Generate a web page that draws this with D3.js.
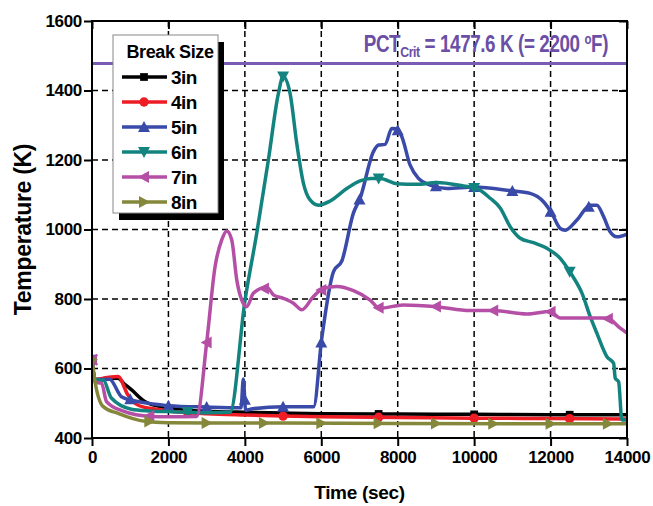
<!DOCTYPE html>
<html>
<head>
<meta charset="utf-8">
<script src="https://cdn.jsdelivr.net/npm/d3@7"></script>
<style>
  body { margin: 0; background: #fff; }
  text { font-family: "Liberation Sans", Arial, sans-serif; font-weight: bold; }
</style>
</head>
<body>
<div class="chart"></div>
<script>
var svgWidth = 653;
var svgHeight = 506;

var margin = { top: 21, right: 26, bottom: 68, left: 92 };
var width = svgWidth - margin.left - margin.right;
var height = svgHeight - margin.top - margin.bottom;

// ticks
var xTicks = [0, 2000, 4000, 6000, 8000, 10000, 12000, 14000];
var yTicks = [400, 600, 800, 1000, 1200, 1400, 1600];
var pctCrit = 1477.6;

// series [time (s), temperature (K)]
var s3in = [[0,625],[80,568],[400,570],[680,572],[850,555],[1030,539],[1380,505],[1900,488],[2500,480],[3000,477],[4000,474],[5000,472],[6000,470],[8000,469],[10000,468],[12000,467],[14000,467]];
var s4in = [[0,625],[80,568],[400,574],[680,577],[940,524],[1200,495],[1600,484],[2000,478],[3000,470],[4000,466],[5000,463],[6000,461],[8000,459],[10000,457],[12000,456],[14000,455]];
var s5in = [[0,625],[80,568],[460,569],[770,519],[1200,505],[1600,498],[2000,493],[3000,489],[3900,487],[3960,570],[4020,480],[4200,484],[5000,490],[5800,490],[6013,687],[6320,879],[6540,910],[6840,1047],[7016,1090],[7365,1224],[7496,1243],[7670,1245],[7846,1291],[7977,1290],[8108,1267],[8325,1185],[8543,1147],[8850,1128],[9286,1118],[10000,1122],[10943,1112],[11466,1104],[11815,1080],[12035,1046],[12252,1003],[12383,998],[12689,1027],[13038,1070],[13213,1070],[13388,1037],[13562,993],[13737,979],[14000,987]];
var s6in = [[0,625],[80,568],[300,566],[506,515],[1030,483],[1500,478],[2000,476],[3000,473],[3613,474],[4005,797],[4311,989],[4615,1200],[4877,1391],[5000,1440],[5184,1391],[5358,1248],[5533,1133],[5707,1085],[5925,1070],[6231,1082],[6667,1118],[7016,1140],[7300,1147],[7540,1147],[7977,1132],[8500,1130],[9024,1135],[9722,1125],[10071,1118],[10420,1090],[10682,1062],[10943,1008],[11205,975],[11554,962],[11903,946],[12252,917],[12559,869],[12821,817],[13038,749],[13213,701],[13475,634],[13650,615],[13693,572],[13780,562],[13867,452],[14000,452]];
var s7in = [[0,625],[80,560],[250,558],[380,505],[800,478],[1545,462],[2000,461],[2741,462],[3003,677],[3220,893],[3395,970],[3526,996],[3657,970],[3788,855],[3919,797],[4050,778],[4224,817],[4573,834],[4747,812],[5009,802],[5271,788],[5490,769],[5795,807],[6056,831],[6406,836],[6842,824],[7278,797],[7522,773],[8150,783],[9024,778],[9896,767],[10507,767],[11380,757],[11990,764],[12252,745],[13475,745],[13823,716],[14000,702]];
var s8in = [[0,625],[80,562],[288,491],[700,470],[1379,448],[2000,444],[3000,443],[5000,443],[8000,442],[11000,441],[14000,441]];

// marker times
var mk2500 = [0, 2500, 5000, 7500, 10000, 12500];
var mk1000 = [0, 1000, 2000, 3000, 4000, 5000, 6000, 7000, 8000, 9000, 10000, 11000, 12000, 13000];
var mk1500 = [0, 1500, 3000, 4500, 6000, 7500, 9000, 10500, 12000, 13500];

var seriesNames = ["3in", "4in", "5in", "6in", "7in", "8in"];
var seriesData = [s3in, s4in, s5in, s6in, s7in, s8in];
var seriesMarks = [mk2500, mk2500, mk1000, mk2500, mk1500, mk1500];
var seriesColors = ["#000000", "#ee1c24", "#3a4aa8", "#13837f", "#b54fa6", "#85883a"];
var seriesSymbols = ["square", "circle", "up", "down", "left", "right"];

var svg = d3.select(".chart")
  .append("svg")
  .attr("width", svgWidth)
  .attr("height", svgHeight);

var chartGroup = svg.append("g")
  .attr("transform", `translate(${margin.left}, ${margin.top})`);

var xScale = d3.scaleLinear().domain([0, 14000]).range([0, width]);
var yScale = d3.scaleLinear().domain([400, 1600]).range([height, 0]);

// dashed grid
chartGroup.append("g").selectAll("line")
  .data(xTicks.slice(1, -1))
  .enter().append("line")
  .attr("x1", d => xScale(d)).attr("x2", d => xScale(d))
  .attr("y1", 0).attr("y2", height)
  .attr("stroke", "#000").attr("stroke-width", 1.5).attr("stroke-dasharray", "6,4");
chartGroup.append("g").selectAll("line")
  .data(yTicks.slice(1, -1))
  .enter().append("line")
  .attr("x1", 0).attr("x2", width)
  .attr("y1", d => yScale(d)).attr("y2", d => yScale(d))
  .attr("stroke", "#000").attr("stroke-width", 1.5).attr("stroke-dasharray", "6,4");

// PCT line
chartGroup.append("line")
  .attr("x1", 0).attr("x2", width)
  .attr("y1", yScale(pctCrit)).attr("y2", yScale(pctCrit))
  .attr("stroke", "#7a5db2").attr("stroke-width", 3);

// label is condensed horizontally like the original narrow font
var pctText = chartGroup.append("g")
  .attr("transform", `translate(${width - 19}, 31) scale(0.82, 1)`)
  .append("text")
  .attr("text-anchor", "end")
  .attr("fill", "#6b4fa6")
  .style("font-size", "23px")
  .style("letter-spacing", "-0.5px");
pctText.append("tspan").text("PCT");
pctText.append("tspan").attr("dy", 5).style("font-size", "15px").text("Crit");
pctText.append("tspan").attr("dy", -5).text(" = 1477.6 K (= 2200 ");
pctText.append("tspan").attr("dy", -8).style("font-size", "14px").text("o");
pctText.append("tspan").attr("dy", 8).text("F)");

chartGroup.append("defs").append("clipPath").attr("id", "clip")
  .append("rect").attr("x", 0).attr("y", 0).attr("width", width).attr("height", height);

var line = d3.line()
  .x(d => xScale(d[0]))
  .y(d => yScale(d[1]))
  .curve(d3.curveMonotoneX);

function symbolPath(kind) {
  var s = 5;
  if (kind === "square") return d3.symbol().type(d3.symbolSquare).size(60)();
  if (kind === "circle") return d3.symbol().type(d3.symbolCircle).size(70)();
  if (kind === "up") return `M0,${-s - 1}L${s + 1},${s}L${-s - 1},${s}Z`;
  if (kind === "down") return `M0,${s + 1}L${s + 1},${-s}L${-s - 1},${-s}Z`;
  if (kind === "left") return `M${-s - 1},0L${s},${-s - 1}L${s},${s + 1}Z`;
  return `M${s + 1},0L${-s},${-s - 1}L${-s},${s + 1}Z`;
}

function valueAt(data, t) {
  var i = d3.bisector(d => d[0]).left(data, t);
  if (i <= 0) return data[0][1];
  if (i >= data.length) return data[data.length - 1][1];
  var a = data[i - 1], b = data[i];
  return a[1] + (b[1] - a[1]) * (t - a[0]) / (b[0] - a[0]);
}

var plotArea = chartGroup.append("g").attr("clip-path", "url(#clip)");

seriesData.forEach(function(data, k) {
  plotArea.append("path")
    .datum(data)
    .attr("d", line)
    .attr("fill", "none")
    .attr("stroke", seriesColors[k])
    .attr("stroke-width", 3.5)
    .attr("stroke-linejoin", "round");

  plotArea.selectAll(".mk" + k)
    .data(seriesMarks[k])
    .enter().append("path")
    .attr("class", "mk" + k)
    .attr("transform", t => `translate(${xScale(t)},${yScale(valueAt(data, t))})`)
    .attr("d", symbolPath(seriesSymbols[k]))
    .attr("fill", seriesColors[k]);
});

// frame
chartGroup.append("rect")
  .attr("width", width).attr("height", height)
  .attr("fill", "none").attr("stroke", "#000").attr("stroke-width", 2);

// axes
var bottomAxis = d3.axisBottom(xScale).tickValues(xTicks).tickFormat(d3.format("d")).tickSize(8).tickSizeOuter(0).tickPadding(5);
var leftAxis = d3.axisLeft(yScale).tickValues(yTicks).tickFormat(d3.format("d")).tickSize(8).tickSizeOuter(0).tickPadding(2);
var topAxis = d3.axisTop(xScale).tickValues(xTicks).tickSize(-8).tickSizeOuter(0).tickFormat("");
var rightAxis = d3.axisRight(yScale).tickValues(yTicks).tickSize(-8).tickSizeOuter(0).tickFormat("");

[
  chartGroup.append("g").attr("transform", `translate(0, ${height})`).call(bottomAxis),
  chartGroup.append("g").call(leftAxis),
  chartGroup.append("g").call(topAxis),
  chartGroup.append("g").attr("transform", `translate(${width}, 0)`).call(rightAxis)
].forEach(function(g) {
  g.select(".domain").remove();
  g.selectAll("line").attr("stroke", "#000").attr("stroke-width", 2);
  g.selectAll("text")
    .style("font-family", "'Liberation Sans', Arial, sans-serif")
    .style("font-weight", "bold")
    .style("font-size", "17px")
    .style("letter-spacing", "-0.3px")
    .attr("fill", "#000");
});

// axis titles
chartGroup.append("text")
  .attr("transform", "rotate(-90)")
  .attr("x", -height / 2)
  .attr("y", -margin.left + 31)
  .attr("text-anchor", "middle")
  .style("font-size", "23px")
  .style("letter-spacing", "-0.3px")
  .text("Temperature (K)");

chartGroup.append("text")
  .attr("x", width / 2)
  .attr("y", height + 61)
  .attr("text-anchor", "middle")
  .style("font-size", "19px")
  .style("letter-spacing", "-0.3px")
  .text("Time (sec)");

// legend
var legend = svg.append("g").attr("transform", "translate(113, 35)");
legend.append("rect")
  .attr("x", 6).attr("y", 7).attr("width", 105).attr("height", 178)
  .attr("fill", "#000");
legend.append("rect")
  .attr("x", 0).attr("y", 0).attr("width", 105).attr("height", 178)
  .attr("fill", "#fff").attr("stroke", "#888").attr("stroke-width", 1);
legend.append("text")
  .attr("x", 57).attr("y", 23)
  .attr("text-anchor", "middle")
  .style("font-size", "18px")
  .style("letter-spacing", "-0.4px")
  .text("Break Size");

var entries = legend.selectAll(".entry")
  .data(seriesNames)
  .enter().append("g")
  .attr("class", "entry")
  .attr("transform", (d, i) => `translate(0, ${42 + i * 25})`);
entries.append("line")
  .attr("x1", 9).attr("x2", 54)
  .attr("stroke", (d, i) => seriesColors[i])
  .attr("stroke-width", 3.5);
entries.append("path")
  .attr("transform", "translate(31, 0)")
  .attr("d", (d, i) => symbolPath(seriesSymbols[i]))
  .attr("fill", (d, i) => seriesColors[i]);
entries.append("text")
  .attr("x", 58).attr("y", 7)
  .style("font-size", "19px")
  .style("letter-spacing", "-0.5px")
  .text(d => d);
</script>
</body>
</html>
